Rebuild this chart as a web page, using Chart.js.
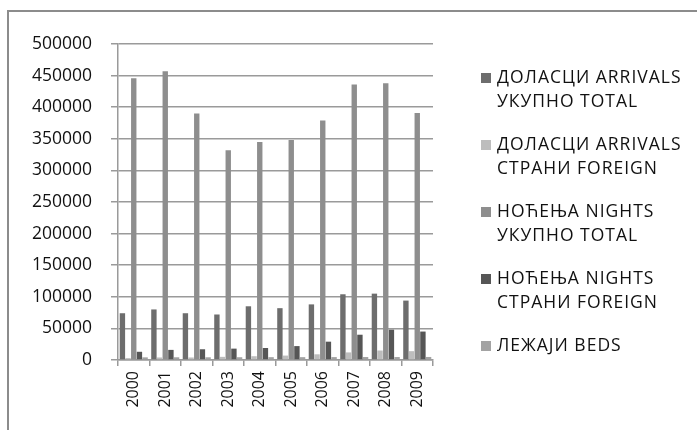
<!DOCTYPE html>
<html>
<head>
<meta charset="utf-8">
<script src="https://cdn.jsdelivr.net/npm/chart.js@4.4.0/dist/chart.umd.min.js"></script>
<style>
  html, body { margin: 0; padding: 0; background: #fff; overflow: hidden; }
  #wrap { position: relative; width: 697px; height: 430px; }
  #okvir { position: absolute; left: 7px; top: 10px; width: 800px; height: 600px; border: 2px solid #8c8c8c; box-sizing: border-box; }
  #graf { position: absolute; left: 0; top: 0; }
</style>
</head>
<body>
<div id="wrap">
  <div id="okvir"></div>
  <canvas id="graf" width="697" height="430"></canvas>
</div>
<script>
// godine
const godine = ['2000', '2001', '2002', '2003', '2004', '2005', '2006', '2007', '2008', '2009'];

// serije (procjena sa slike)
const dolasciUkupno = [74000, 80000, 74000, 72000, 85000, 82000, 88000, 104000, 105000, 94000];
const dolasciStrani = [3000, 4000, 4000, 5000, 6000, 7000, 9000, 12000, 15000, 14000];
const nocenjaUkupno = [446000, 457000, 390000, 332000, 345000, 348000, 379000, 436000, 438000, 391000];
const nocenjaStrani = [13000, 16000, 17000, 18000, 19000, 22000, 29000, 40000, 48000, 45000];
const lezaji = [4200, 4300, 4300, 4400, 4500, 4500, 4600, 4700, 4700, 4800];

const nazivi = [
    ['ДОЛАСЦИ ARRIVALS', 'УКУПНО TOTAL'],
    ['ДОЛАСЦИ ARRIVALS', 'СТРАНИ FOREIGN'],
    ['НОЋЕЊА NIGHTS', 'УКУПНО TOTAL'],
    ['НОЋЕЊА NIGHTS', 'СТРАНИ FOREIGN'],
    ['ЛЕЖАЈИ BEDS']
];
const boje = ['#6d6d6d', '#bdbdbd', '#8e8e8e', '#565656', '#a3a3a3'];
const podaci = [dolasciUkupno, dolasciStrani, nocenjaUkupno, nocenjaStrani, lezaji];

const font = "'Open Sans', sans-serif";

// legenda desno, dva reda po stavci
const legendaPlugin = {
    id: 'legenda',
    afterDraw(chart) {
        const ctx = chart.ctx;
        ctx.save();
        ctx.font = '17.5px ' + font;
        ctx.letterSpacing = '1px';
        ctx.textBaseline = 'middle';
        let y = 78;
        chart.data.datasets.forEach(function (ds) {
            ctx.fillStyle = ds.backgroundColor;
            ctx.fillRect(481, y - 5, 10, 10);
            ctx.fillStyle = '#111';
            ds.label.forEach(function (red, i) {
                ctx.fillText(red, 497, y + i * 24);
            });
            y += 67;
        });
        ctx.restore();
    }
};

const skupovi = [];
for (var i in podaci) {
    skupovi.push({
        label: nazivi[i],
        data: podaci[i],
        backgroundColor: boje[i],
        borderWidth: 0,
        barPercentage: 0.95,
        categoryPercentage: 0.9
    });
}

new Chart(document.getElementById('graf'), {
    type: 'bar',
    data: {
        labels: godine,
        datasets: skupovi
    },
    options: {
        responsive: false,
        animation: false,
        layout: { padding: { top: 44, right: 264, bottom: 0, left: 0 } },
        plugins: {
            legend: { display: false },
            tooltip: { enabled: false }
        },
        scales: {
            y: {
                min: 0,
                max: 500000,
                afterFit: function (s) { s.width = 118; },
                ticks: {
                    stepSize: 50000,
                    padding: 19,
                    color: '#111',
                    font: { family: font, size: 17.5 },
                    callback: function (v) { return String(v); }
                },
                grid: { color: '#9a9a9a', lineWidth: 1.5, tickLength: 7 },
                border: { color: '#9a9a9a', width: 1.5 }
            },
            x: {
                afterFit: function (s) { s.height = 70; },
                ticks: {
                    minRotation: 90,
                    maxRotation: 90,
                    padding: 5,
                    color: '#111',
                    font: { family: font, size: 16 }
                },
                grid: { drawOnChartArea: false, color: '#9a9a9a', lineWidth: 1.5, tickLength: 6 },
                border: { color: '#9a9a9a', width: 1.5 }
            }
        }
    },
    plugins: [legendaPlugin]
});
</script>
</body>
</html>
